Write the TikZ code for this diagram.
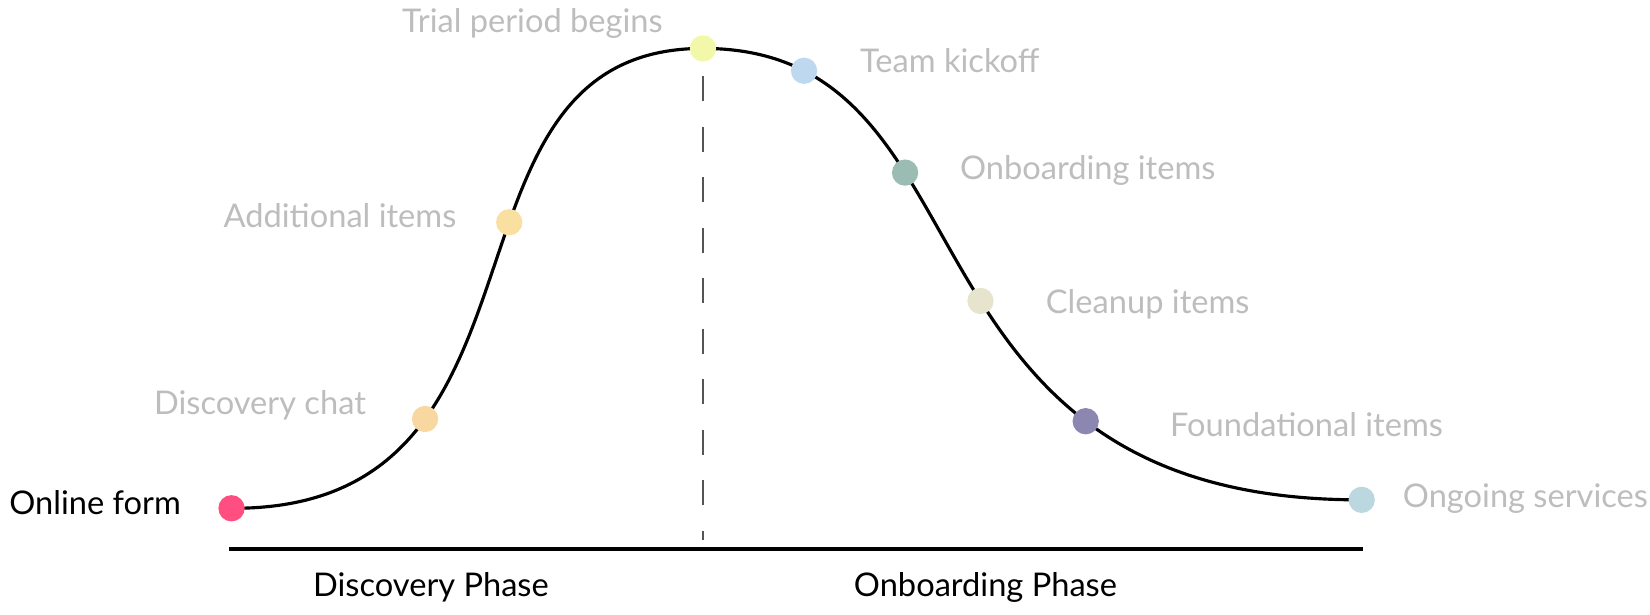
\documentclass[tikz,border=0pt]{standalone}
\usepackage{fontspec}
\setmainfont{Lato}
\usepackage{tikz}
\usetikzlibrary{positioning}

\definecolor{formpink}{HTML}{FF4F80}
\definecolor{chatsand}{HTML}{F8D7A0}
\definecolor{addsand}{HTML}{F9DFA0}
\definecolor{trialyellow}{HTML}{F2F7AA}
\definecolor{kickoffblue}{HTML}{BED8F0}
\definecolor{onboardgreen}{HTML}{9BBCB2}
\definecolor{cleanupbeige}{HTML}{E6E4CC}
\definecolor{foundpurple}{HTML}{8B87B0}
\definecolor{ongoingblue}{HTML}{BBD8E0}
\definecolor{labelgray}{HTML}{BDBDBD}
\definecolor{dashgray}{HTML}{555555}

\begin{document}
\begin{tikzpicture}[x=1pt, y=-1pt,
    dot/.style={circle, inner sep=0pt, minimum size=25pt, draw=none},
    curve/.style={line width=3pt},
    lbl/.style={inner sep=0pt, text=labelgray, font=\fontsize{31}{34}\selectfont},
    phase/.style={inner sep=0pt, font=\fontsize{31}{34}\selectfont},
    divider/.style={dashgray, line width=1.5pt, dash pattern=on 24pt off 24pt}]
    \useasboundingbox (0, 0) rectangle (1568, 584.4);
    \coordinate (axisl) at (218, 521.7);
    \coordinate (axisr) at (1295, 521.7);
    \draw[curve]
      (220, 483) node[dot, fill=formpink] (form) {} ..
      controls (547, 485) and (398, 46) ..
      (668, 46) node[dot, fill=trialyellow] (trial) {}
        node[dot, pos=0.284, fill=chatsand] (chat) {}
        node[dot, pos=0.583, fill=addsand] (add) {} ..
      controls (955, 46) and (835, 476) ..
      (1294, 475) node[dot, fill=ongoingblue] (ongoing) {}
        node[dot, pos=0.1345, fill=kickoffblue] (kickoff) {}
        node[dot, pos=0.3447, fill=onboardgreen] (onboard) {}
        node[dot, pos=0.539, fill=cleanupbeige] (cleanup) {}
        node[dot, pos=0.7335, fill=foundpurple] (found) {};
    \draw[divider]
      ([yshift=-12.3pt]trial.south) --
      ([yshift=8.7pt]trial |- axisl);
    \draw[line width=3.8pt] (axisl) -- (axisr);
    \node[phase, left=34pt of form, yshift=5pt] (formtxt) {Online form};
    \node[lbl, left=42pt of chat, yshift=13pt] (chattxt) {Discovery chat};
    \node[lbl, left=36pt of add, yshift=6pt] (addtxt) {Additional items};
    \node[lbl, left=24pt of trial, yshift=24pt] (trialtxt) {Trial period begins};
    \node[lbl, right=39pt of kickoff, yshift=10pt] (kickofftxt) {Team kickoff};
    \node[lbl, right=38pt of onboard, yshift=2pt] (onboardtxt) {Onboarding items};
    \node[lbl, right=48pt of cleanup, yshift=-3pt] (cleanuptxt) {Cleanup items};
    \node[lbl, right=66pt of found, yshift=-3pt] (foundtxt) {Foundational items};
    \node[lbl, right=25pt of ongoing, yshift=1pt] (ongoingtxt) {Ongoing services};
    \node[phase] (discphase) at (409.5, 558) {Discovery Phase};
    \node[phase] (onbphase) at (936.5, 558) {Onboarding Phase};
\end{tikzpicture}
\end{document}
